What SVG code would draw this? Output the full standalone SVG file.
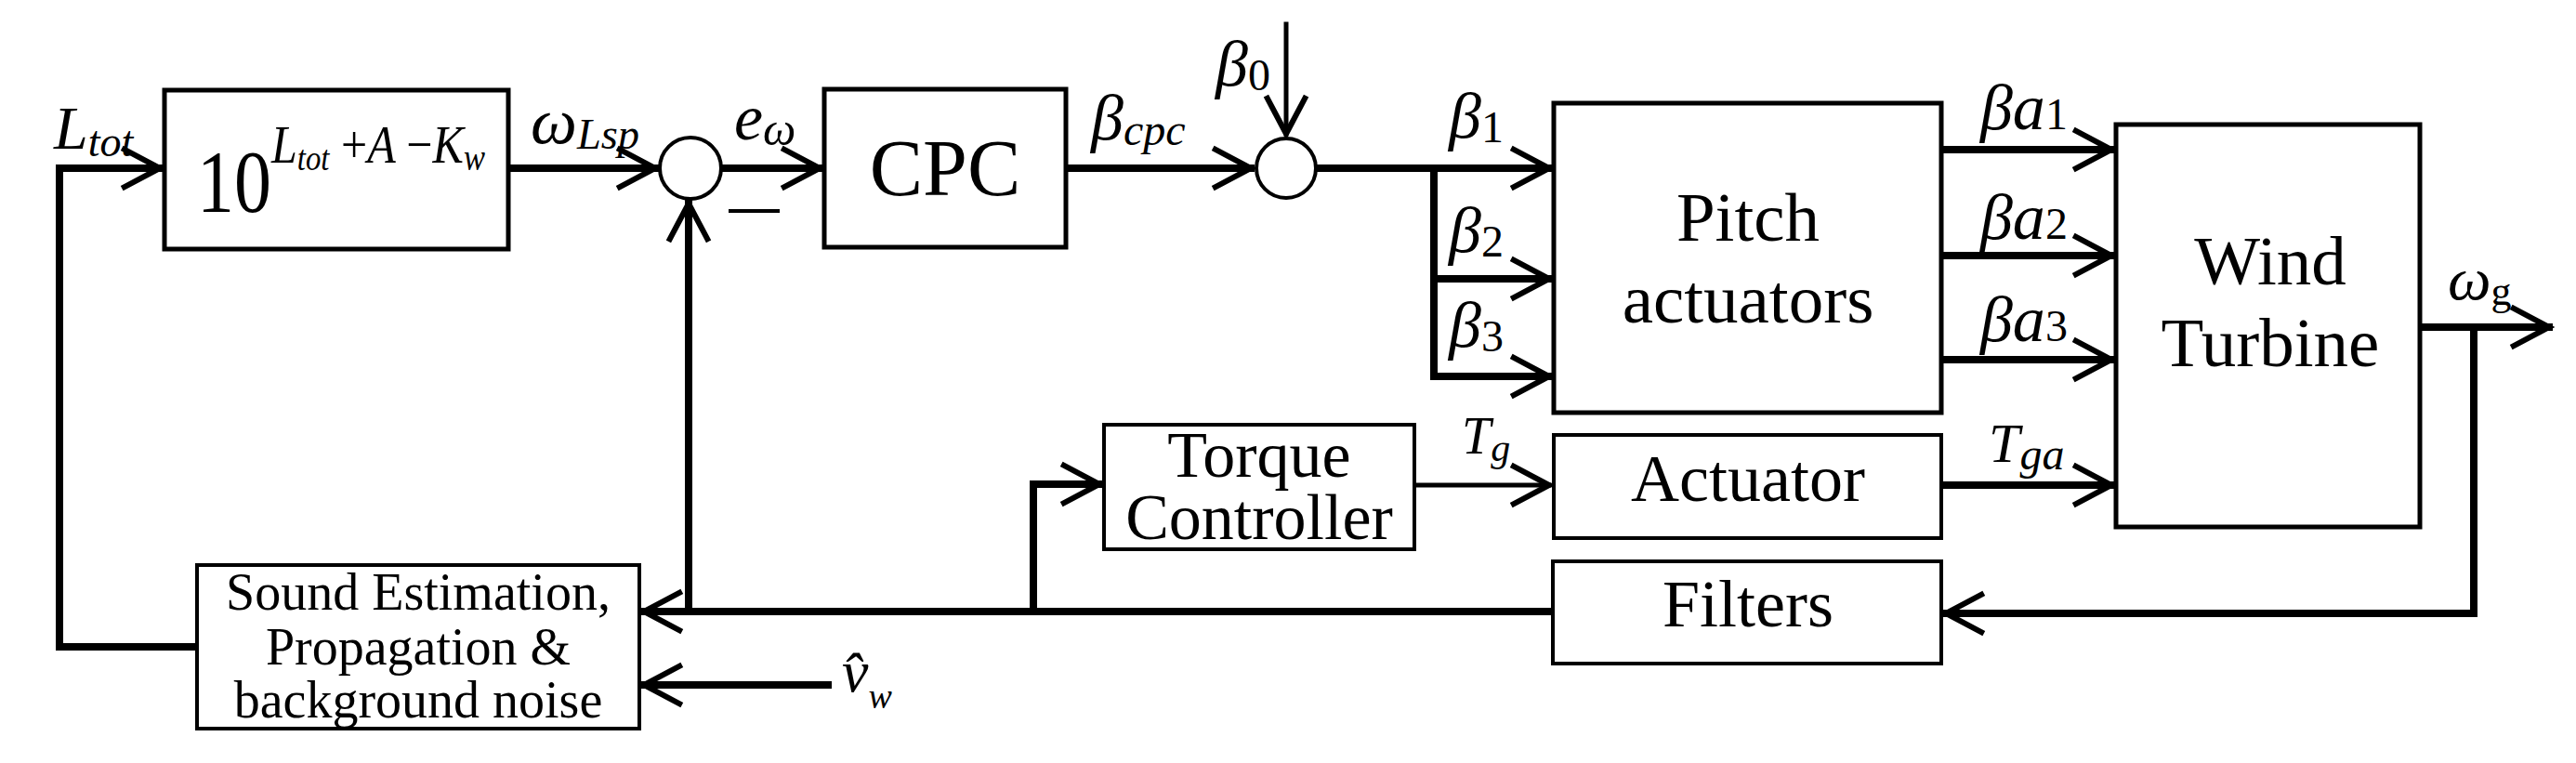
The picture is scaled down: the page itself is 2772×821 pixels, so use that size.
<svg xmlns="http://www.w3.org/2000/svg" width="2772" height="821" viewBox="0 0 2772 821">
<style>
.b{fill:#fff;stroke:#000;stroke-width:5}
.c{fill:none;stroke:#000;stroke-width:8;stroke-linecap:square}
text{font-family:'Liberation Serif','Times New Roman','DejaVu Serif',serif;fill:#000}
.i{font-style:italic}
</style>
<defs>
<marker id="a" markerUnits="userSpaceOnUse" markerWidth="60" markerHeight="60" viewBox="-40 -25 50 50" refX="0" refY="0" orient="auto" overflow="visible">
<path d="M-34,-18 L0,0 L-34,18" fill="none" stroke="#000" stroke-width="5"/>
</marker>
</defs>
<g id="connectors">
<path class="c" d="M212,696 H64 V181 H172" marker-end="url(#a)"/>
<path class="c" d="M547,181 H705" marker-end="url(#a)"/>
<path class="c" d="M777,181 H882" marker-end="url(#a)"/>
<path class="c" d="M1147,181 H1346" marker-end="url(#a)"/>
<path class="c" d="M1384,26 V144" marker-end="url(#a)" style="stroke-width:5"/>
<path class="c" d="M1417,181 H1667" marker-end="url(#a)"/>
<path class="c" d="M1543,181 V405 H1667" marker-end="url(#a)"/>
<path class="c" d="M1543,300 H1667" marker-end="url(#a)"/>
<path class="c" d="M2089,161 H2272" marker-end="url(#a)"/>
<path class="c" d="M2089,275 H2272" marker-end="url(#a)"/>
<path class="c" d="M2089,387 H2272" marker-end="url(#a)"/>
<path class="c" d="M2089,522 H2272" marker-end="url(#a)"/>
<path class="c" d="M1522,522 H1667" marker-end="url(#a)" style="stroke-width:5"/>
<path class="c" d="M2604,352 H2743" marker-end="url(#a)"/>
<path class="c" d="M2662,352 V660 H2094" marker-end="url(#a)"/>
<path class="c" d="M1671,658 H693" marker-end="url(#a)"/>
<path class="c" d="M741,658 V219" marker-end="url(#a)"/>
<path class="c" d="M1112,658 V521 H1183" marker-end="url(#a)"/>
<path class="c" d="M891,737 H693" marker-end="url(#a)"/>
<path d="M784,227 H839" stroke="#000" stroke-width="4"/>
</g>
<g id="sum1"><circle cx="743" cy="181" r="33" class="b" style="stroke-width:4"/></g>
<g id="sum2"><circle cx="1384" cy="181" r="32" class="b" style="stroke-width:4"/></g>
<g id="exp">
<rect x="177" y="97" width="370" height="171" class="b"/>
<text x="212" y="228" font-size="95" textLength="80" lengthAdjust="spacingAndGlyphs">10</text>
<text class="i" x="292" y="175" font-size="58" textLength="230" lengthAdjust="spacingAndGlyphs">L<tspan font-size="38" dy="8">tot</tspan><tspan font-style="normal" dy="-8"> +</tspan>A <tspan font-style="normal">−</tspan>K<tspan font-size="40" dy="8">w</tspan></text>
</g>
<g id="cpc">
<rect x="887" y="96" width="260" height="170" class="b"/>
<text x="1017" y="210" font-size="86" text-anchor="middle">CPC</text>
</g>
<g id="pitch">
<rect x="1672" y="111" width="417" height="333" class="b"/>
<text x="1881" y="259" font-size="75" text-anchor="middle">Pitch</text>
<text x="1881" y="347" font-size="75" text-anchor="middle">actuators</text>
</g>
<g id="wind">
<rect x="2277" y="134" width="327" height="433" class="b"/>
<text x="2443" y="306" font-size="75" text-anchor="middle">Wind</text>
<text x="2443" y="394" font-size="75" text-anchor="middle">Turbine</text>
</g>
<g id="torque">
<rect x="1188" y="457" width="334" height="134" class="b" style="stroke-width:4"/>
<text x="1355" y="513" font-size="70" text-anchor="middle">Torque</text>
<text x="1355" y="580" font-size="70" text-anchor="middle">Controller</text>
</g>
<g id="actuator">
<rect x="1672" y="468" width="417" height="111" class="b" style="stroke-width:4"/>
<text x="1881" y="539" font-size="72" text-anchor="middle">Actuator</text>
</g>
<g id="filters">
<rect x="1671" y="604" width="418" height="110" class="b" style="stroke-width:4"/>
<text x="1881" y="674" font-size="72" text-anchor="middle">Filters</text>
</g>
<g id="sound">
<rect x="212" y="608" width="476" height="176" class="b" style="stroke-width:4"/>
<text x="450" y="656" font-size="56" text-anchor="middle">Sound Estimation,</text>
<text x="450" y="715" font-size="56" text-anchor="middle">Propagation &amp;</text>
<text x="450" y="772" font-size="56" text-anchor="middle">background noise</text>
</g>
<g id="labels">
<text class="i" x="58" y="160" font-size="66">L<tspan font-size="46" dy="8">tot</tspan></text>
<text class="i" x="571" y="154" font-size="70" textLength="117" lengthAdjust="spacingAndGlyphs">ω<tspan font-size="46" dy="6">Lsp</tspan></text>
<text class="i" x="790" y="150" font-size="70">e<tspan font-size="50" dy="6">ω</tspan></text>
<text class="i" x="1174" y="150" font-size="70">β<tspan font-size="48" dy="6">cpc</tspan></text>
<text class="i" x="1308" y="92" font-size="70">β<tspan font-style="normal" font-size="48" dy="5">0</tspan></text>
<text class="i" x="1559" y="148" font-size="70">β<tspan font-style="normal" font-size="48" dy="5">1</tspan></text>
<text class="i" x="1559" y="271" font-size="70">β<tspan font-style="normal" font-size="48" dy="5">2</tspan></text>
<text class="i" x="1559" y="373" font-size="70">β<tspan font-style="normal" font-size="48" dy="5">3</tspan></text>
<text class="i" x="2131" y="139" font-size="70">βa<tspan font-style="normal" font-size="48">1</tspan></text>
<text class="i" x="2131" y="257" font-size="70">βa<tspan font-style="normal" font-size="48">2</tspan></text>
<text class="i" x="2131" y="367" font-size="70">βa<tspan font-style="normal" font-size="48">3</tspan></text>
<text class="i" x="2634" y="322" font-size="66">ω<tspan font-style="normal" font-size="44" dy="6">g</tspan></text>
<text class="i" x="1573" y="488" font-size="56">T<tspan font-size="42" dy="8">g</tspan></text>
<text class="i" x="2140" y="497" font-size="60">T<tspan font-size="48" dy="8">ga</tspan></text>
<text class="i" x="906" y="744" font-size="64">v̂<tspan font-size="38" dy="18">w</tspan></text>
</g>
</svg>
